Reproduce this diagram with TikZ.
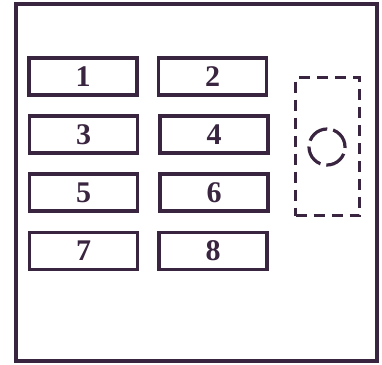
\documentclass[tikz,border=0pt]{standalone}
\usepackage{fontspec}
\setmainfont{Liberation Serif}
\definecolor{ink}{HTML}{3A2540}
\begin{document}
\begin{tikzpicture}[x=1pt,y=-1pt,
  fuse/.style={draw=ink,line width=3.6pt,minimum width=108pt,minimum height=37pt,inner sep=0pt,
    font=\fontsize{30}{30}\selectfont\bfseries,text=ink},
  dsh/.style={draw=ink,line width=3.2pt,dash pattern=on 11pt off 7pt}]
\useasboundingbox (0,0) rectangle (382,364);
\draw[ink,line width=3.6pt] (16,4) rectangle (377,361);
\node[fuse] (f1) at (83,76.5) {1};
\node[fuse] (f2) at (212.5,76.5) {2};
\node[fuse] (f3) at (83.5,134.5) {3};
\node[fuse] (f4) at (214,134.5) {4};
\node[fuse] (f5) at (83.5,192.5) {5};
\node[fuse] (f6) at (214,192.5) {6};
\node[fuse] (f7) at (83.5,251) {7};
\node[fuse] (f8) at (213,251) {8};
\node[dsh,minimum width=64pt,minimum height=138pt,inner sep=0pt] (relay) at (327.5,146.5) {};
\node[dsh,circle,minimum size=36pt,inner sep=0pt,dash pattern=on 22pt off 6pt] (c) at (327,147) {};
\end{tikzpicture}
\end{document}
